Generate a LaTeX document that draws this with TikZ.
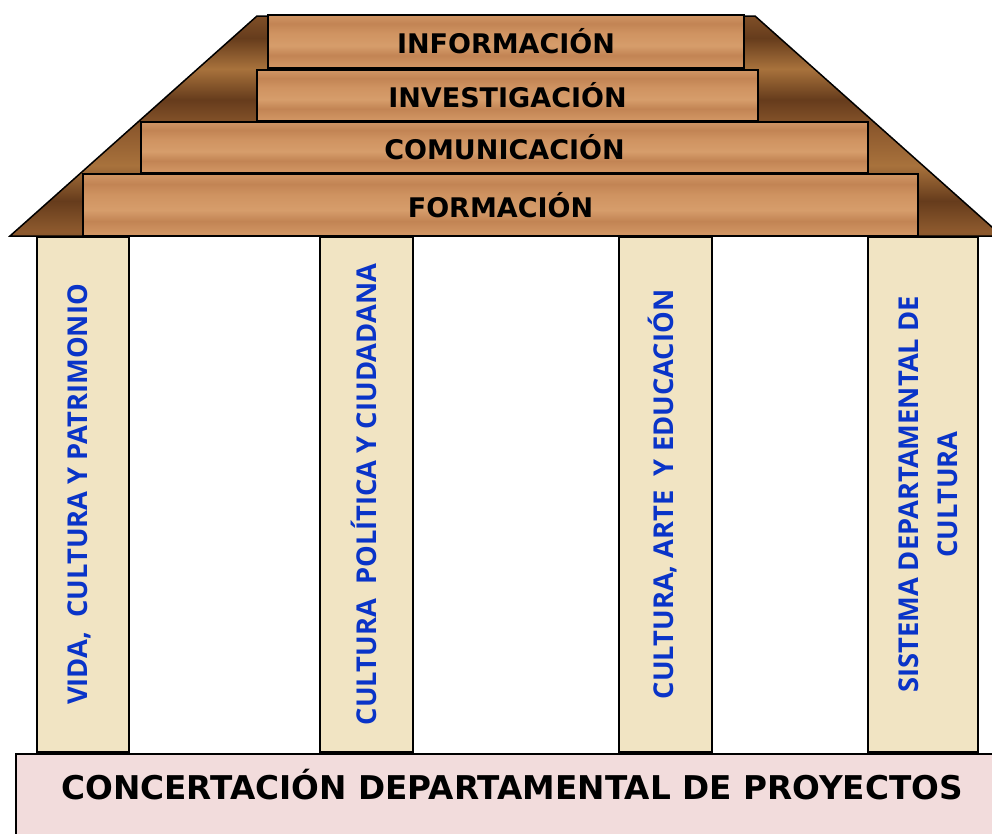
\documentclass[tikz,border=0pt]{standalone}
\usepackage{fontspec}
\setmainfont{DejaVu Sans}
\newfontfamily\pillarfont{Open Sans}
\usetikzlibrary{positioning}

\definecolor{plankA}{RGB}{207,147,97}
\definecolor{plankB}{RGB}{194,132,84}
\definecolor{plankC}{RGB}{214,157,107}
\definecolor{roofA}{RGB}{142,90,46}
\definecolor{roofB}{RGB}{102,60,28}
\definecolor{roofC}{RGB}{168,114,60}
\definecolor{parchment}{RGB}{241,228,195}
\definecolor{pillarblue}{RGB}{10,52,200}
\definecolor{basepink}{RGB}{242,220,220}

\pgfdeclareverticalshading{plankwood}{100bp}{color(0bp)=(plankA); color(9bp)=(plankB); color(17bp)=(plankC); color(28bp)=(plankA); color(37bp)=(plankB); color(46bp)=(plankC); color(58bp)=(plankA); color(67bp)=(plankB); color(78bp)=(plankC); color(88bp)=(plankB); color(100bp)=(plankA)}
\pgfdeclareverticalshading{roofwood}{100bp}{color(0bp)=(roofB); color(6bp)=(roofA); color(12bp)=(roofC); color(19bp)=(roofB); color(26bp)=(roofA); color(33bp)=(roofB); color(41bp)=(roofC); color(49bp)=(roofA); color(56bp)=(roofB); color(63bp)=(roofC); color(70bp)=(roofB); color(78bp)=(roofA); color(86bp)=(roofC); color(93bp)=(roofB); color(100bp)=(roofA)}

\tikzset{
	plank/.style={draw=black, line width=2pt, shade, shading=plankwood, inner sep=0pt, font=\fontsize{27}{30}\selectfont\bfseries},
	pillar/.style={draw=black, line width=1.5pt, fill=parchment, rotate=90, inner sep=0pt, text=pillarblue, align=center, font=\pillarfont\fontsize{27.3}{39}\selectfont\bfseries},
	basebox/.style={draw=black, line width=2pt, fill=basepink, inner sep=0pt}
}

\begin{document}
\begin{tikzpicture}[x=1pt, y=-1pt]
	\clip (0,0) rectangle (992,833);

	% roof
	\shade[shading=roofwood, draw=black, line width=1.5pt] (10,236) -- (257,16) -- (755,16) -- (1002,236) -- cycle;

	% planks, top to bottom
	\node[plank, minimum width=476pt, minimum height=53pt] (informacion) at (506,41.5) {INFORMACIÓN};
	\node[plank, minimum width=501pt, minimum height=51pt] (investigacion) at (507.5,95.5) {INVESTIGACIÓN};
	\node[plank, minimum width=727pt, minimum height=51pt] (comunicacion) at (504.5,147.5) {COMUNICACIÓN};
	\node[plank, minimum width=835pt, minimum height=62pt] (formacion) at (500.5,205) {FORMACIÓN};

	% pillars
	\node[pillar, minimum width=515pt, minimum height=92pt] (vida) at (83,494.5) {};
	\node[pillar, minimum width=515pt, minimum height=93pt] (politica) at (366.5,494.5) {};
	\node[pillar, minimum width=515pt, minimum height=93pt] (arte) at (665.5,494.5) {};
	\node[pillar, minimum width=515pt, minimum height=110pt] (sistema) at (923,494.5) {};
	\node[pillar, draw=none, fill=none] (vidatext) at ([xshift=-4pt]vida.center) {VIDA,\ \ CULTURA Y PATRIMONIO};
	\node[pillar, draw=none, fill=none] (politicatext) at ([xshift=-3pt]politica.center) {CULTURA\ \ POLÍTICA Y CIUDADANA};
	\node[pillar, draw=none, fill=none] (artetext) at ([xshift=-3pt]arte.center) {CULTURA, ARTE\ \ Y EDUCACIÓN};
	\node[pillar, draw=none, fill=none] (sistematext) at ([xshift=5pt]sistema.center) {SISTEMA DEPARTAMENTAL DE\\CULTURA};

	% base
	\node[basebox, minimum width=990pt, minimum height=100pt, anchor=north west] (base) at (15,753) {};
	\node[font=\fontsize{32.7}{36}\selectfont\bfseries] (concertacion) at (512,785) {CONCERTACIÓN DEPARTAMENTAL DE PROYECTOS};
\end{tikzpicture}
\end{document}
